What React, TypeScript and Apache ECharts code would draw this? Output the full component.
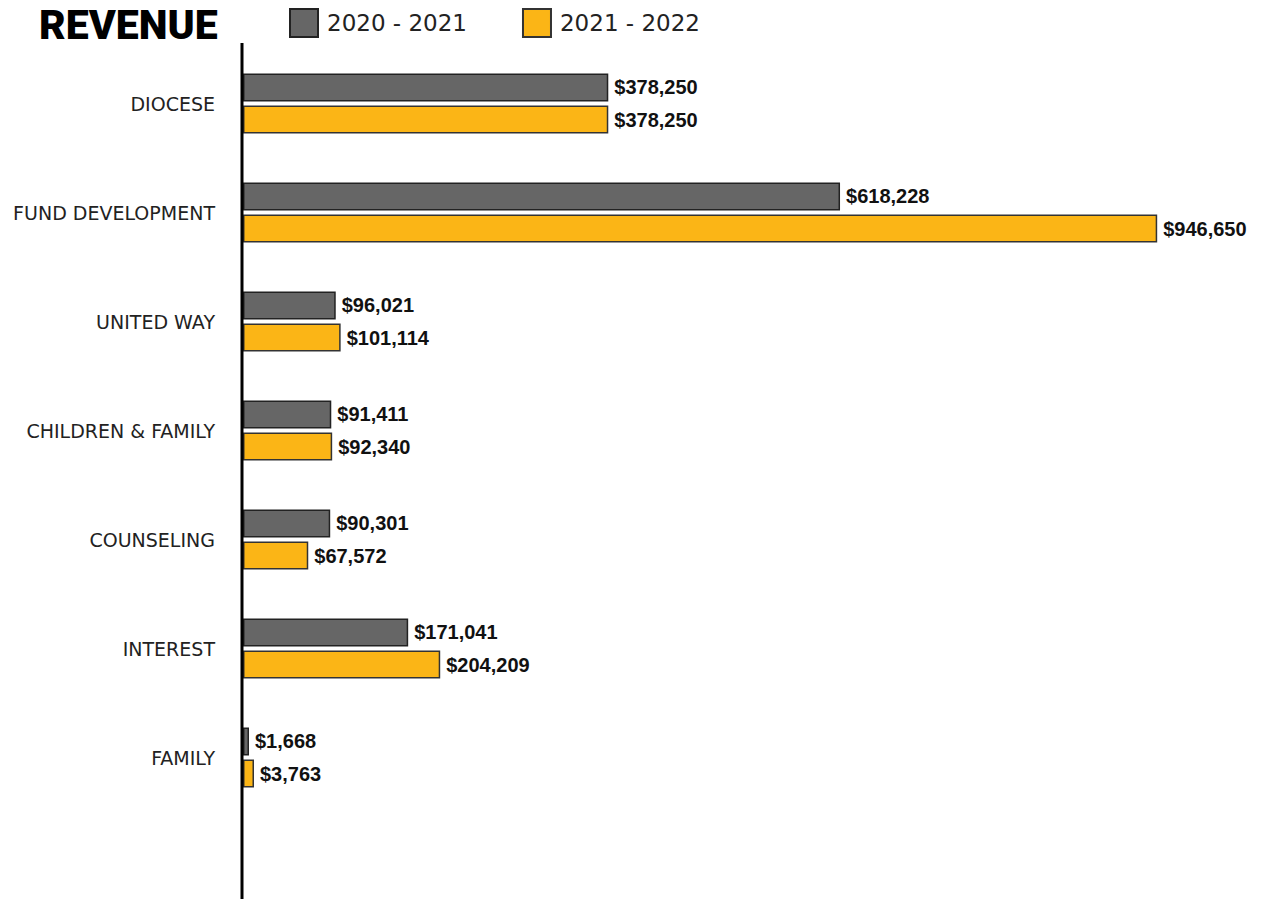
import React, { useEffect, useRef } from "react";
import * as echarts from "echarts";

const categories = [
  "DIOCESE",
  "FUND DEVELOPMENT",
  "UNITED WAY",
  "CHILDREN & FAMILY",
  "COUNSELING",
  "INTEREST",
  "FAMILY",
];
const series2021 = [378250, 618228, 96021, 91411, 90301, 171041, 1668];
const series2022 = [378250, 946650, 101114, 92340, 67572, 204209, 3763];
const seriesNames = ["2020 - 2021", "2021 - 2022"];
const title = "REVENUE";

const fmt = (v: number) => "$" + v.toLocaleString("en-US");

export default function App() {
  const ref = useRef<HTMLDivElement>(null);
  useEffect(() => {
    if (!ref.current) return;
    const chart = echarts.init(ref.current, undefined, { renderer: "svg" });
    const label = {
      show: true,
      position: "right" as const,
      distance: 6,
      fontFamily: "Liberation Sans, Arial, sans-serif",
      fontWeight: "bold" as const,
      fontSize: 20,
      color: "#111",
      formatter: (p: any) => fmt(p.value),
    };
    chart.setOption({
      animation: false,
      backgroundColor: "#fff",
      title: {
        text: title,
        left: 39,
        top: 4,
        padding: [0, 0, 0, 0],
        textStyle: {
          fontFamily: "Roboto, sans-serif",
          fontWeight: 900,
          fontSize: 41,
          lineHeight: 41,
          color: "#000",
        },
      },
      legend: {
        data: seriesNames,
        left: 289,
        top: 8,
        padding: 0,
        itemWidth: 28,
        itemHeight: 28,
        itemGap: 55,
        icon: "rect",
        textStyle: {
          fontFamily: "DejaVu Sans, sans-serif",
          fontSize: 23,
          color: "#222",
          padding: [0, 0, 0, 4],
        },
      },
      grid: { left: 243, right: 6, top: 49, height: 763 },
      xAxis: {
        type: "value",
        min: 0,
        max: 1050000,
        show: false,
      },
      yAxis: {
        type: "category",
        data: categories,
        inverse: true,
        axisLine: { show: false },
        axisTick: { show: false },
        axisLabel: {
          margin: 28,
          fontFamily: "DejaVu Sans, sans-serif",
          fontSize: 19,
          color: "#222",
        },
      },
      series: [
        {
          name: seriesNames[0],
          type: "bar",
          data: series2021,
          barWidth: 28,
          barGap: "15%",
          barMinHeight: 6,
          itemStyle: { color: "#666666", borderColor: "#222", borderWidth: 1.5 },
          label,
        },
        {
          name: seriesNames[1],
          type: "bar",
          data: series2022,
          barWidth: 28,
          barMinHeight: 11,
          itemStyle: { color: "#FBB516", borderColor: "#333", borderWidth: 1.5 },
          label,
        },
      ],
      graphic: [
        {
          type: "line",
          shape: { x1: 242, y1: 43, x2: 242, y2: 899 },
          style: { stroke: "#000", lineWidth: 3 },
          z: 10,
        },
      ],
    });
    return () => chart.dispose();
  }, []);
  return (
    <div
      ref={ref}
      style={{ position: "fixed", left: 0, top: 0, width: 1263, height: 899 }}
    />
  );
}
